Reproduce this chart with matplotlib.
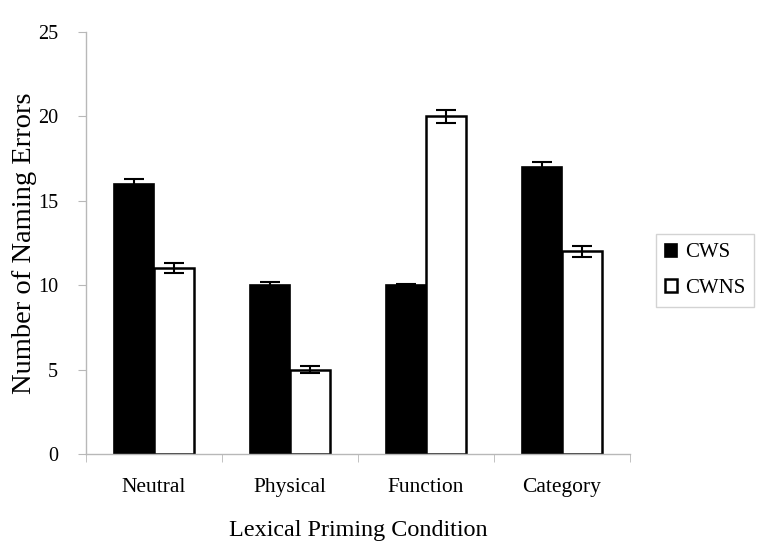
import matplotlib
matplotlib.use("Agg")
import matplotlib.pyplot as plt
import numpy as np

categories = ["Neutral", "Physical", "Function", "Category"]
cws = [16, 10, 10, 17]
cwns = [11, 5, 20, 12]
cws_err = [0.3, 0.2, 0.1, 0.3]
cwns_err = [0.3, 0.2, 0.4, 0.3]
yticks = [0, 5, 10, 15, 20, 25]

plt.rcParams['font.family'] = ['Liberation Serif', 'DejaVu Serif']

fig = plt.figure(figsize=(7.64, 5.55), dpi=100)
ax = fig.add_axes([86/764, 1 - 454/555, 544/764, 422/555])

x = np.arange(len(categories))
w = 0.295
ax.bar(x - w/2, cws, w, color='black', edgecolor='black', linewidth=1.2,
       yerr=cws_err, error_kw=dict(ecolor='black', elinewidth=1.5, capsize=7, capthick=1.5), label='CWS')
ax.bar(x + w/2, cwns, w, color='white', edgecolor='black', linewidth=1.8,
       yerr=cwns_err, error_kw=dict(ecolor='black', elinewidth=1.5, capsize=7, capthick=1.5), label='CWNS')

ax.set_xlim(-0.5, len(categories) - 0.5)
ax.set_ylim(0, 25)
ax.set_yticks(yticks)
ax.set_yticklabels([str(t) for t in yticks], fontsize=14.5)
ax.set_xticks(x)
ax.set_xticklabels(categories, fontsize=15.5)
ax.tick_params(axis='x', length=0, pad=17)
ax.tick_params(axis='y', length=6, color='#b8b8b8', pad=14)
ax.set_xticks(np.arange(len(categories) + 1) - 0.5, minor=True)
ax.tick_params(axis='x', which='minor', length=6, color='#b8b8b8')

for s in ['top', 'right']:
    ax.spines[s].set_visible(False)
for s in ['left', 'bottom']:
    ax.spines[s].set_color('#b8b8b8')
    ax.spines[s].set_linewidth(1.0)

ax.set_ylabel("Number of Naming Errors", fontsize=20.5)
ax.yaxis.set_label_coords((25 - 86) / 544, 0.5)
ax.yaxis.label.set_va('center')
ax.set_xlabel("Lexical Priming Condition", fontsize=17.4, labelpad=17)

leg = fig.legend(loc='upper left', bbox_to_anchor=(656/764, 1 - 234/555),
                 prop=dict(family='Liberation Serif', size=15),
                 frameon=True, fancybox=False, edgecolor='#c8c8c8',
                 handlelength=0.58, handleheight=0.58, handletextpad=0.35,
                 labelspacing=0.8, borderpad=0.45, borderaxespad=0)
leg.get_frame().set_linewidth(1.0)

fig.savefig("out.png", dpi=100)
